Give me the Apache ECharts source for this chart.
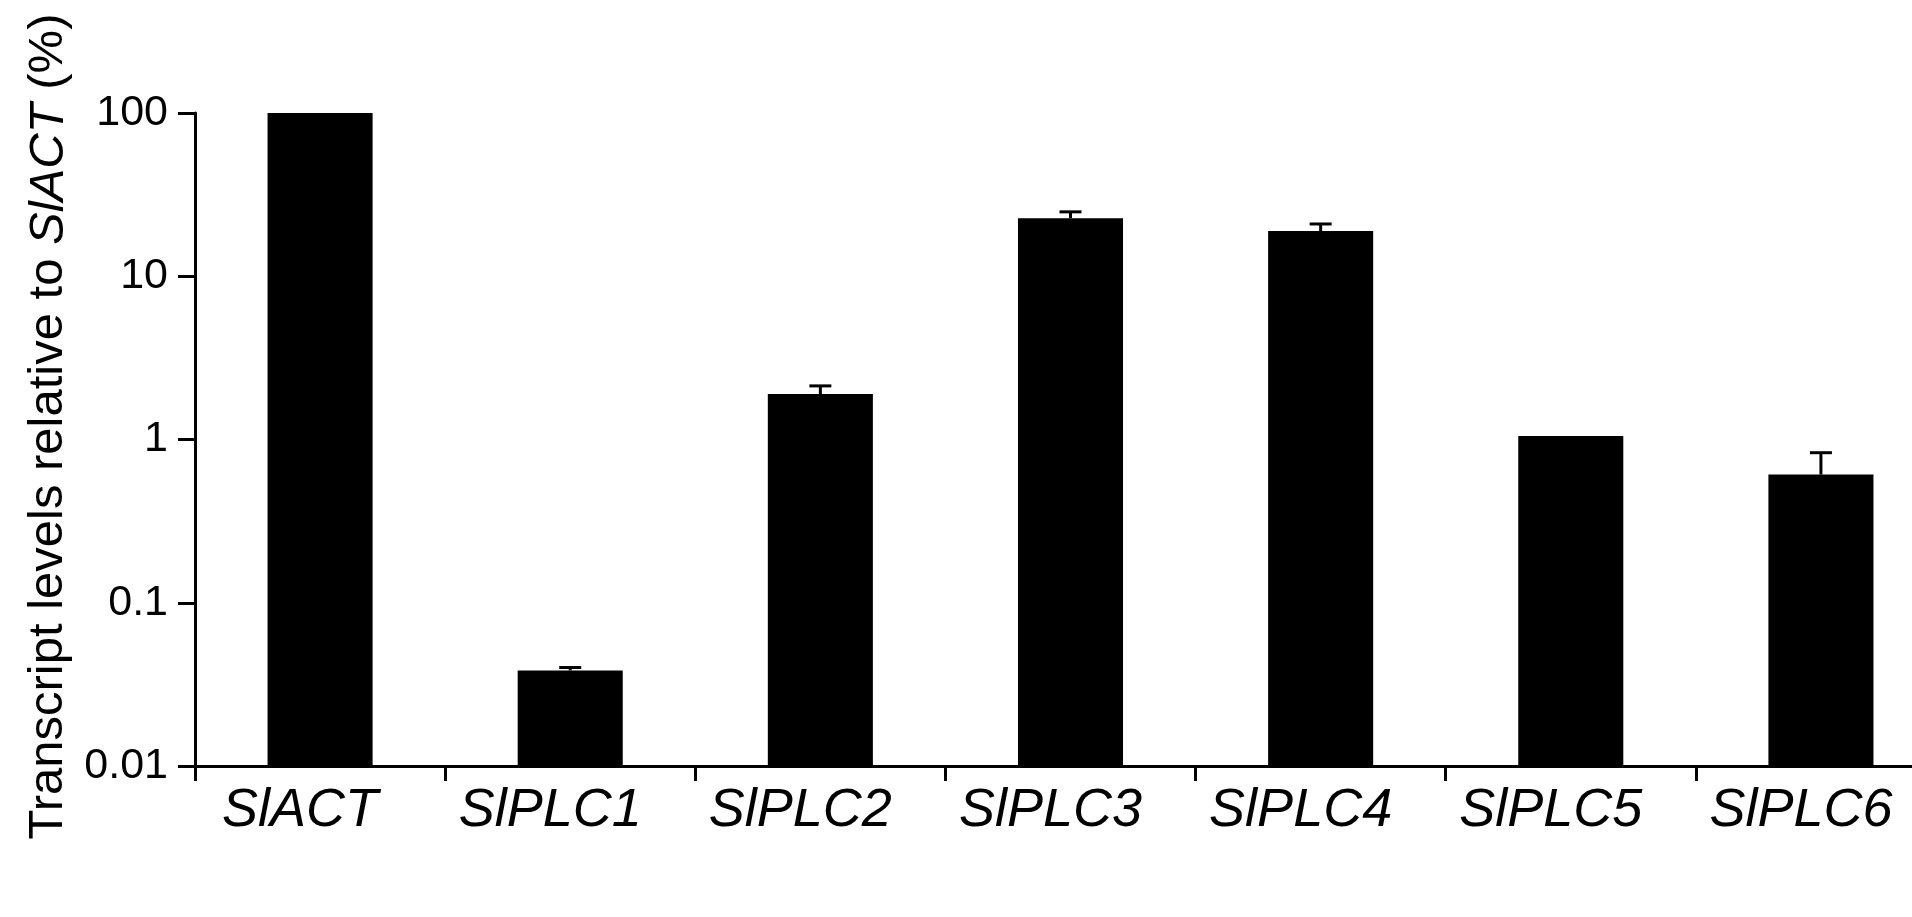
<!DOCTYPE html>
<html>
<head>
<meta charset="utf-8">
<script src="https://cdn.jsdelivr.net/npm/echarts@6/dist/echarts.min.js"></script>
<style>
html,body{margin:0;padding:0;background:#fff;}
#chart{width:1912px;height:917px;}
</style>
</head>
<body>
<div id="chart"></div>
<script>
const categories = ['SlACT', 'SlPLC1', 'SlPLC2', 'SlPLC3', 'SlPLC4', 'SlPLC5', 'SlPLC6'];
const values = [100, 0.0385, 1.9, 22.7, 18.9, 1.05, 0.61];
const errors = [0, 0.0016, 0.23, 2.1, 2.0, 0, 0.22];
const yTicks = [0.01, 0.1, 1, 10, 100];

const FONT = '"Liberation Sans", Arial, Helvetica, sans-serif';
const chart = echarts.init(document.getElementById('chart'));

const barData = categories.map((c, i) => [i, values[i], errors[i]]);
const yMin = yTicks[0];

chart.setOption({
  backgroundColor: '#ffffff',
  animation: false,
  grid: { left: 195, top: 113, bottom: 151, width: 1751, containLabel: false, outerBoundsMode: 'none' },
  xAxis: {
    type: 'category',
    data: categories,
    boundaryGap: true,
    axisLine: { lineStyle: { color: '#000', width: 3 } },
    axisTick: { show: true, inside: false, length: 15, lineStyle: { color: '#000', width: 3 }, alignWithLabel: false },
    axisLabel: {
      color: '#000', fontSize: 54, fontStyle: 'italic', fontFamily: FONT,
      margin: 18, interval: 0, padding: [0, 40, 0, 0]
    },
    splitLine: { show: false }
  },
  yAxis: {
    type: 'log',
    logBase: 10,
    min: yTicks[0],
    max: yTicks[yTicks.length - 1],
    axisLine: { show: true, lineStyle: { color: '#000', width: 3 } },
    axisTick: { show: true, inside: false, length: 17, lineStyle: { color: '#000', width: 3 } },
    axisLabel: {
      color: '#000', fontSize: 43, fontFamily: FONT, margin: 27,
      formatter: function (v) { return String(+v.toPrecision(6)); }
    },
    splitLine: { show: false },
    minorTick: { show: false },
    name: '{n|Transcript levels relative to }{i|SlACT}{n| (%)}',
    nameLocation: 'middle',
    nameRotate: 90,
    nameGap: 112,
    nameTextStyle: {
      padding: [0, 0, 0, 26],
      rich: {
        n: { fontSize: 49, color: '#000', fontFamily: FONT },
        i: { fontSize: 49, color: '#000', fontFamily: FONT, fontStyle: 'italic' }
      }
    }
  },
  series: [
    {
      type: 'custom',
      data: barData,
      encode: { x: 0, y: 1 },
      z: 2,
      renderItem: function (params, api) {
        const idx = api.value(0), v = api.value(1);
        const top = api.coord([idx, v]);
        const bottom = api.coord([idx, yMin]);
        const w = api.size([1, 0])[0] * 0.42;
        return {
          type: 'rect',
          shape: { x: top[0] - w / 2, y: top[1], width: w, height: bottom[1] - top[1] },
          style: { fill: '#000' }
        };
      }
    },
    {
      type: 'custom',
      data: barData,
      encode: { x: 0, y: 1 },
      z: 3,
      renderItem: function (params, api) {
        const idx = api.value(0), v = api.value(1), e = api.value(2);
        if (!e) return null;
        const base = api.coord([idx, v]);
        const top = api.coord([idx, v + e]);
        const hw = 11;
        return {
          type: 'group',
          children: [
            { type: 'line', shape: { x1: base[0], y1: base[1], x2: top[0], y2: top[1] }, style: { stroke: '#000', lineWidth: 3 } },
            { type: 'line', shape: { x1: top[0] - hw, y1: top[1], x2: top[0] + hw, y2: top[1] }, style: { stroke: '#000', lineWidth: 3 } }
          ]
        };
      }
    }
  ]
});
</script>
</body>
</html>
